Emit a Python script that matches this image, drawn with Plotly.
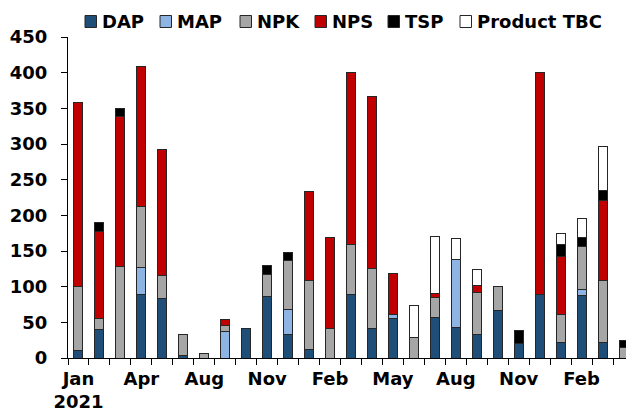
import plotly.graph_objects as go

months = ["Jan 2021", "Feb 2021", "Mar 2021", "Apr 2021", "May 2021", "Jul 2021",
          "Aug 2021", "Sep 2021", "Oct 2021", "Nov 2021", "Dec 2021",
          "Jan 2022", "Feb 2022", "Mar 2022", "Apr 2022", "May 2022", "Jun 2022",
          "Jul 2022", "Aug 2022", "Sep 2022", "Oct 2022", "Nov 2022", "Dec 2022",
          "Jan 2023", "Feb 2023", "Mar 2023", "Apr 2023"]
tick_text = ["Jan<br>2021", "", "", "Apr", "", "", "Aug", "", "", "Nov", "", "",
             "Feb", "", "", "May", "", "", "Aug", "", "", "Nov", "", "",
             "Feb", "", ""]

dap = [11, 40, 0, 89, 83, 4, 0, 0, 42, 86, 33, 12, 0, 89, 42, 56, 0,
       57, 43, 33, 66, 21, 89, 22, 88, 22, 0]
map_ = [0, 0, 0, 38, 0, 0, 0, 37, 0, 0, 35, 0, 0, 0, 0, 5, 0,
        0, 95, 0, 0, 0, 0, 0, 8, 0, 0]
npk = [89, 16, 128, 86, 32, 29, 6, 8, 0, 31, 68, 97, 41, 70, 84, 0, 29,
       28, 0, 59, 34, 0, 0, 39, 61, 87, 15]
nps = [258, 122, 210, 195, 177, 0, 0, 9, 0, 0, 0, 125, 128, 241, 241, 57, 0,
       6, 0, 10, 0, 0, 311, 81, 0, 112, 0]
tsp = [0, 12, 12, 0, 0, 0, 0, 0, 0, 13, 12, 0, 0, 0, 0, 0, 0,
       0, 0, 0, 0, 17, 0, 17, 12, 14, 9]
tbc = [0, 0, 0, 0, 0, 0, 0, 0, 0, 0, 0, 0, 0, 0, 0, 0, 44,
       80, 29, 22, 0, 0, 0, 16, 27, 62, 0]

series = [
    ("DAP", dap, "#1f4e79"),
    ("MAP", map_, "#8db4e2"),
    ("NPK", npk, "#a6a6a6"),
    ("NPS", nps, "#c00000"),
    ("TSP", tsp, "#000000"),
    ("Product TBC", tbc, "#ffffff"),
]
outline = "#262626"

# page body has an 8px margin, so the figure is drawn 8px in from the corner
W, H = 626, 411
L, T, B = 60, 29, 61
PW, PH = W - L, H - T - B


def px_x(x):
    return (x - 8 - L) / PW


def px_y(y):
    return 1 + (T - (y - 8)) / PH


fig = go.Figure()
for name, vals, color in series:
    fig.add_trace(go.Bar(
        x=months, y=vals, name=name,
        marker=dict(color=color, line=dict(color=outline, width=1)),
    ))

# legend drawn by hand to get Excel-like tight spacing
legend_x = [85, 160, 240, 315, 388, 460]
for (name, _, color), lx in zip(series, legend_x):
    fig.add_shape(type="rect", xref="paper", yref="paper",
                  x0=px_x(lx), x1=px_x(lx + 11.5), y0=px_y(27.5), y1=px_y(15.5),
                  fillcolor=color, line=dict(color=outline, width=1))
    fig.add_annotation(x=px_x(lx + 15), y=px_y(21.5), xref="paper", yref="paper",
                       text=name, showarrow=False, xanchor="left", yanchor="middle",
                       font=dict(size=18, weight="bold"))

fig.update_layout(
    barmode="stack",
    bargap=0.57,
    width=W, height=H,
    margin=dict(l=L, r=0, t=T, b=B),
    plot_bgcolor="white",
    paper_bgcolor="white",
    font=dict(family="DejaVu Sans", size=18, color="black", weight="bold"),
    showlegend=False,
)
fig.update_xaxes(
    type="category", tickmode="array", tickvals=months, ticktext=tick_text,
    tickson="boundaries", ticks="outside", ticklen=6, tickcolor="black",
    showline=True, linecolor="black", linewidth=1, showgrid=False,
    tickfont=dict(size=18, weight="bold"), tickangle=0, ticklabelstandoff=4,
)
fig.update_yaxes(
    range=[0, 450], dtick=50, ticks="outside", ticklen=6, tickcolor="black",
    showline=True, linecolor="black", linewidth=1, showgrid=False,
    zeroline=False, tickfont=dict(size=18, weight="bold"), ticklabelstandoff=10,
)

fig.write_html("out.html")
